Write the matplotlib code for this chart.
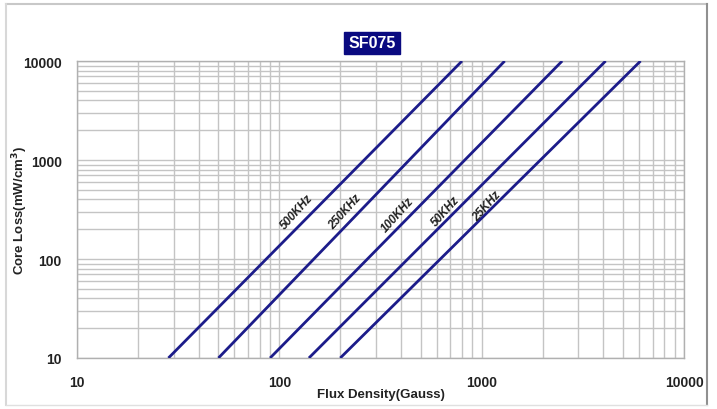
import matplotlib
matplotlib.use("Agg")
import matplotlib.pyplot as plt
from matplotlib.lines import Line2D

plt.rcParams['font.family'] = ['Liberation Sans', 'DejaVu Sans']

# core loss curves: flux density at 10 and 10000 mW/cm3
freqs = ['500KHz', '250KHz', '100KHz', '50KHz', '25KHz']
b_low = [28.3, 50.0, 90.0, 140.0, 200.0]
b_high = [800.0, 1300.0, 2500.0, 4100.0, 6100.0]
p_ends = [10, 10000]
# label anchor (flux density, core loss) for each curve
label_b = [122, 211, 386, 667, 1064]
label_p = [305, 305, 285, 305, 343]

navy = '#1c1c8a'

fig = plt.figure(figsize=(7.17, 4.10), dpi=100)
ax = fig.add_axes([77/717, 1-359/410, (684-77)/717, (359-62)/410])

for name, b0, b1, lb, lp in zip(freqs, b_low, b_high, label_b, label_p):
    ax.plot([b0, b1], p_ends, color=navy, lw=2.0, solid_capstyle='butt', zorder=3)
    ax.text(lb, lp, name, rotation=48, fontsize=8.5, fontweight='bold',
            fontstyle='italic', ha='center', va='center', color='#222222', zorder=4)

ax.set_xscale('log')
ax.set_yscale('log')
ax.set_xlim(10, 10000)
ax.set_ylim(10, 10000)
ax.set_xticks([10, 100, 1000, 10000])
ax.set_xticklabels(['10', '100', '1000', '10000'])
ax.set_yticks([10, 100, 1000, 10000])
ax.set_yticklabels(['10', '100', '1000', '10000'])
ax.tick_params(which='both', length=0)
ax.tick_params(axis='x', pad=12, labelsize=10)
ax.tick_params(axis='y', pad=11, labelsize=10)
for lab in ax.get_xticklabels() + ax.get_yticklabels():
    lab.set_fontweight('bold')
    lab.set_color('#222222')

ax.grid(True, which='both', color='#c4c4c4', lw=1.0)
for s in ax.spines.values():
    s.set_color('#b0b0b0')
    s.set_linewidth(1.0)

ax.set_xlabel('Flux Density(Gauss)', fontsize=9.5, fontweight='bold', color='#222222')
ax.xaxis.set_label_coords(0.5, -0.1)
ax.set_ylabel('Core Loss(mW/cm$^\\mathbf{3}$)', fontsize=9.5, fontweight='bold', color='#222222')
ax.yaxis.set_label_coords(-0.077, 0.5)

fig.text(372/717, 1-44/410, 'SF075', fontsize=11.5, fontweight='bold', color='white',
         ha='center', va='center',
         bbox=dict(boxstyle='square,pad=0.25', fc='#0a0a80', ec='#0a0a80'))

# outer frame
fig.add_artist(Line2D([6/717, 707/717], [1-5/410, 1-5/410], color='#c8c8c8', lw=1.5))
fig.add_artist(Line2D([6/717, 6/717], [1-5/410, 1-406/410], color='#d8d8d8', lw=1.5))
fig.add_artist(Line2D([707/717, 707/717], [1-5/410, 1-406/410], color='#909090', lw=1.5))
fig.add_artist(Line2D([6/717, 707/717], [1-406/410, 1-406/410], color='#e0e0e0', lw=1.0))

fig.savefig('out.png', dpi=100)
